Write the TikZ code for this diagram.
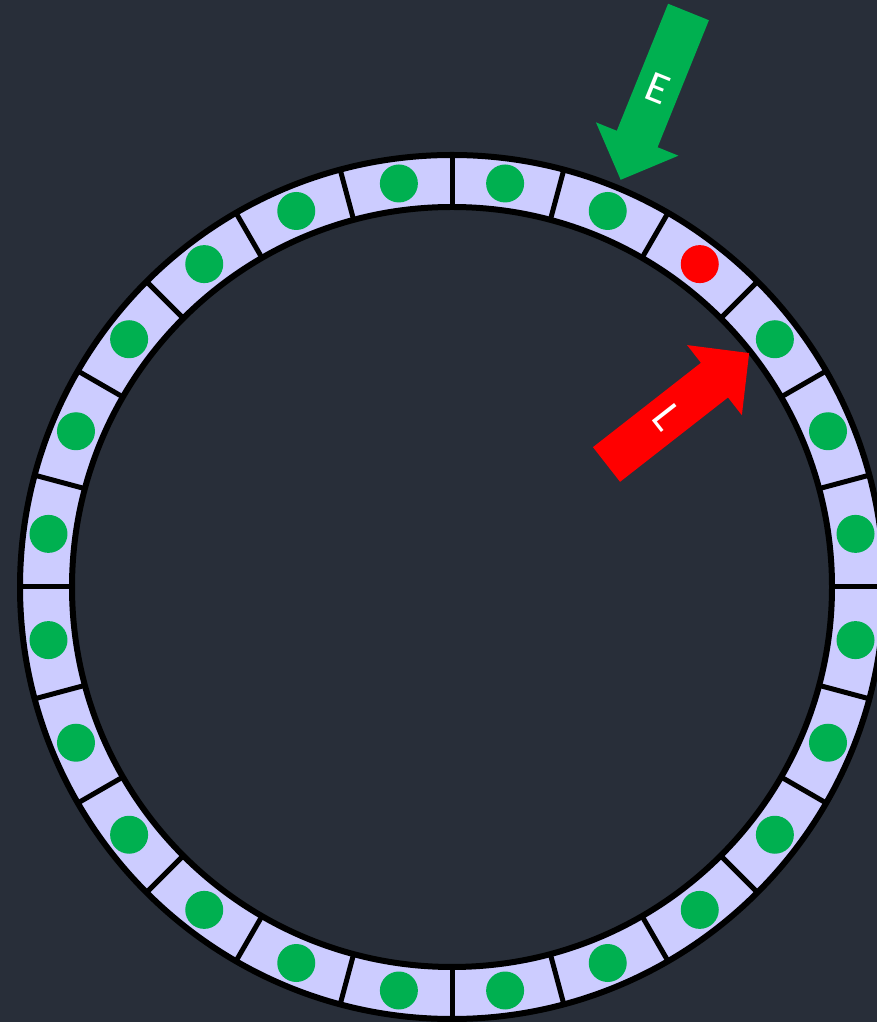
\documentclass[tikz,border=0pt]{standalone}
\usepackage{fontspec}
\setmainfont{Carlito}
\definecolor{bg}{HTML}{282E39}
\definecolor{lav}{HTML}{CCCCFF}
\definecolor{grn}{HTML}{00B050}
\definecolor{rd}{HTML}{FF0000}
\begin{document}
\begin{tikzpicture}[x=1pt,y=1pt,
  dot/.style={circle,inner sep=0pt,minimum size=38pt},
  sep/.style={black,line width=5pt},
  rim/.style={black,line width=6pt},
  lab/.style={text=white,font=\fontsize{44}{44}\selectfont,inner sep=0pt}]
\fill[bg] (0,0) rectangle (877,1022);
\useasboundingbox (0,0) rectangle (877,1022);
\coordinate (c) at (452,435);
\fill[lav,even odd rule] (c) circle[radius=432pt] (c) circle[radius=381pt];
\foreach \k in {0,...,23}
  \draw[sep] ([shift={(c)}]90+15*\k:381) -- ([shift={(c)}]90+15*\k:432);
\draw[rim] (c) circle[radius=432pt];
\draw[rim] (c) circle[radius=380pt];
\foreach \k in {0,...,23}{
  \ifnum\k=21
    \node[dot,fill=rd] (d\k) at ([shift={(c)}]97.5+15*\k:407) {};
  \else
    \node[dot,fill=grn] (d\k) at ([shift={(c)}]97.5+15*\k:407) {};
  \fi
}
\begin{scope}[shift={(688.5,1010)},rotate=-112]
  \fill[grn] (0,-22) -- (137,-22) -- (137,-44.5) -- (181,0) -- (137,44.5) -- (137,22) -- (0,22) -- cycle;
  \node[lab,rotate=-22] (E) at (82,0) {E};
\end{scope}
\begin{scope}[shift={(606.5,557.5)},rotate=38]
  \fill[rd] (0,-22) -- (137,-22) -- (137,-44.5) -- (181,0) -- (137,44.5) -- (137,22) -- (0,22) -- cycle;
  \node[lab,rotate=-52] (L) at (77,0) {L};
\end{scope}
\end{tikzpicture}
\end{document}
